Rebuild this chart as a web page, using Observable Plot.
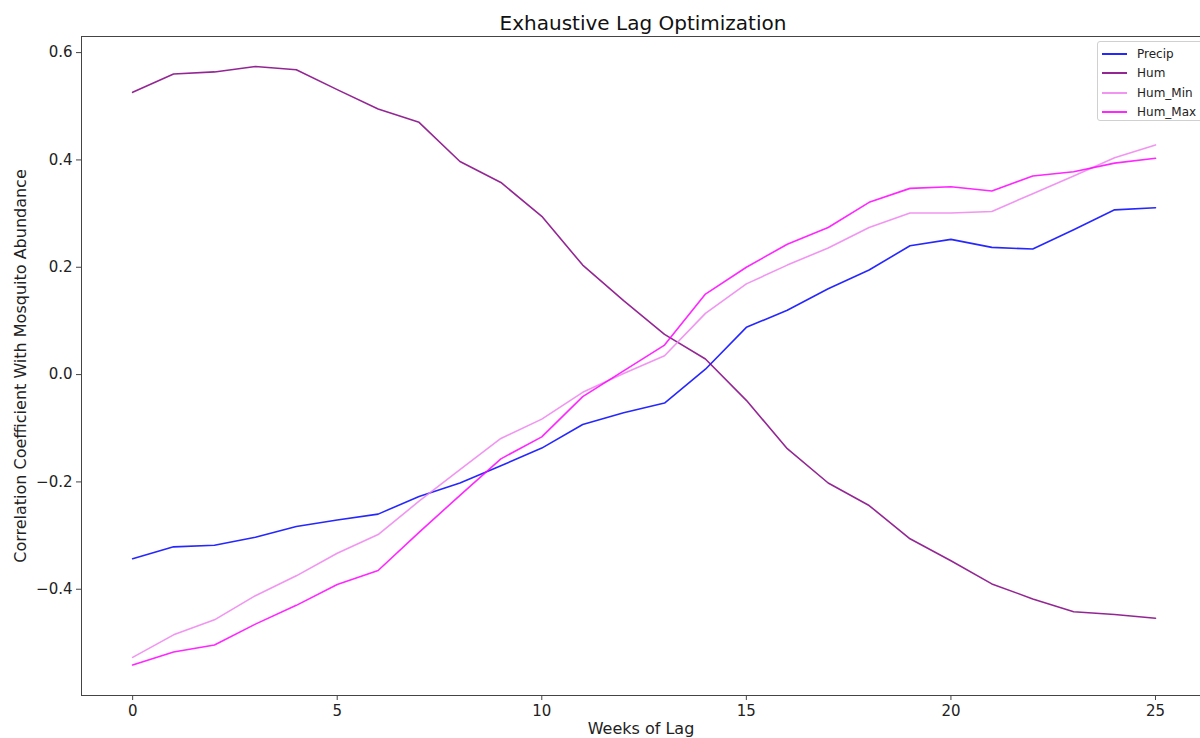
<!DOCTYPE html>
<html>
<head>
<meta charset="utf-8">
<script src="https://cdn.jsdelivr.net/npm/d3@7"></script>
<script src="https://cdn.jsdelivr.net/npm/@observablehq/plot@0.6"></script>
<style>
  html, body { margin: 0; padding: 0; background: #fff; }
  body { width: 1200px; height: 738px; position: relative; overflow: hidden; font-family: "DejaVu Sans", sans-serif; }
  #title { height: 36px; line-height: 46px; text-align: center; font-size: 20px; color: #111; padding-left: 86px; box-sizing: border-box; white-space: nowrap; }
  #legend { position: absolute; left: 1097px; top: 41px; width: 110px; height: 80px; border: 1px solid #d0d0d0; border-radius: 3px; background: rgba(255,255,255,0.85); font-size: 12px; color: #222; box-sizing: border-box; padding-top: 2px; }
  #legend .row { height: 19.5px; display: flex; align-items: center; }
  #legend svg { margin-left: 3px; margin-right: 9px; }
</style>
</head>
<body>
<div id="title">Exhaustive Lag Optimization</div>
<div id="chart"></div>
<div id="legend"></div>
<script>
const weeks = [0,1,2,3,4,5,6,7,8,9,10,11,12,13,14,15,16,17,18,19,20,21,22,23,24,25];
const precip = [-0.343,-0.321,-0.318,-0.303,-0.283,-0.271,-0.260,-0.227,-0.202,-0.170,-0.137,-0.093,-0.071,-0.053,0.010,0.088,0.120,0.160,0.195,0.240,0.252,0.237,0.234,0.270,0.307,0.311];
const hum = [0.526,0.560,0.564,0.574,0.568,0.531,0.495,0.470,0.397,0.358,0.295,0.204,0.138,0.075,0.029,-0.048,-0.138,-0.202,-0.244,-0.306,-0.347,-0.390,-0.418,-0.442,-0.447,-0.454];
const humMin = [-0.527,-0.485,-0.457,-0.412,-0.375,-0.333,-0.298,-0.236,-0.177,-0.119,-0.083,-0.033,0.002,0.035,0.114,0.169,0.204,0.236,0.274,0.301,0.301,0.304,0.337,0.370,0.404,0.428];
const humMax = [-0.541,-0.517,-0.504,-0.465,-0.430,-0.391,-0.365,-0.294,-0.225,-0.157,-0.116,-0.041,0.007,0.055,0.150,0.200,0.243,0.274,0.321,0.347,0.350,0.342,0.370,0.378,0.394,0.403];
const seriesNames = ["Precip","Hum","Hum_Min","Hum_Max"];
const seriesColors = ["#0000ff","#800080","#ee82ee","#ff00ff"];
const xTicks = [0,5,10,15,20,25];
const yTicks = [-0.4,-0.2,0.0,0.2,0.4,0.6];

const seriesValues = [precip, hum, humMin, humMax];
const rows = seriesNames.flatMap((name, i) => weeks.map((w, j) => ({week: w, value: seriesValues[i][j], series: name})));

const chart = Plot.plot({
  width: 1200,
  height: 702,
  marginLeft: 81,
  marginRight: 0,
  marginTop: 0,
  marginBottom: 43,
  style: {fontFamily: "DejaVu Sans, sans-serif", color: "#222", background: "#fff"},
  x: {domain: [-1.25, 26.1]},
  y: {domain: [-0.598, 0.630]},
  marks: [
    Plot.frame({stroke: "#444", strokeWidth: 1}),
    Plot.axisX({ticks: xTicks, tickSize: 5, tickPadding: 5, fontSize: 15, label: "Weeks of Lag", labelAnchor: "center", labelArrow: "none", labelOffset: 38, stroke: "#444"}),
    Plot.axisY({ticks: yTicks, tickFormat: d3.format(".1f"), tickSize: 5, tickPadding: 4, fontSize: 15, label: "Correlation Coefficient With Mosquito Abundance", labelAnchor: "center", labelArrow: "none", labelOffset: 67, stroke: "#444"}),
    ...seriesNames.map((name, i) => Plot.line(rows.filter(d => d.series === name), {x: "week", y: "value", stroke: seriesColors[i], strokeOpacity: 0.85, strokeWidth: 1.6}))
  ]
});
d3.select(chart).selectAll("[aria-label='x-axis label'] text, [aria-label='y-axis label'] text").style("font-size", "16px");
document.getElementById("chart").appendChild(chart);

const legend = d3.select("#legend");
seriesNames.forEach((name, i) => {
  const row = legend.append("div").attr("class", "row");
  const svg = row.append("svg").attr("width", 27).attr("height", 6);
  svg.append("line").attr("x1", 1).attr("x2", 26).attr("y1", 3).attr("y2", 3)
    .attr("stroke", seriesColors[i]).attr("stroke-opacity", 0.85).attr("stroke-width", 2);
  row.append("span").text(name);
});
</script>
</body>
</html>
